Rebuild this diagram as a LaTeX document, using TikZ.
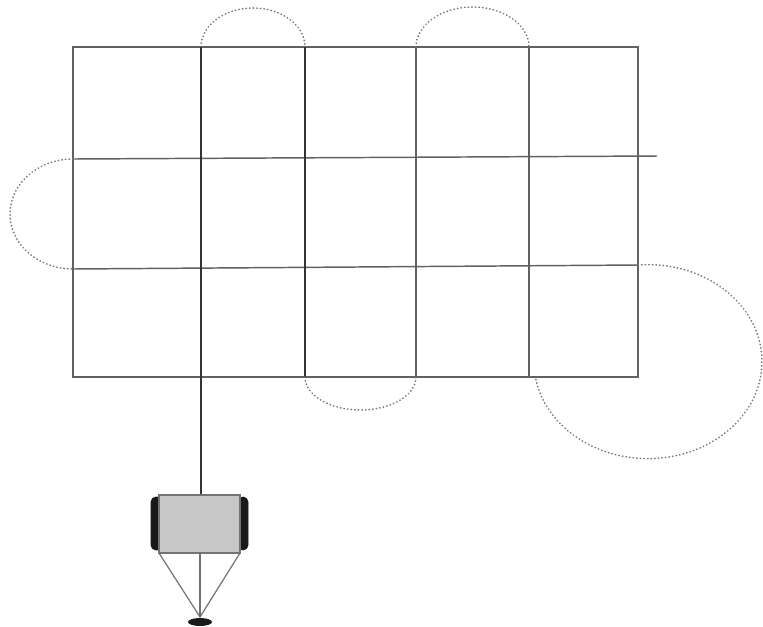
\documentclass[tikz,border=0pt]{standalone}
\begin{document}
\begin{tikzpicture}[x=0.75pt,y=-0.75pt,
  gridline/.style={draw=black!62,line width=1.1pt},
  pathline/.style={draw=black!80,line width=1.3pt},
  loopline/.style={draw=black!55,line width=1.2pt,line cap=round,dash pattern=on 0.3pt off 2.4pt},
  wheel/.style={fill=black!90,draw=black!90,rounded corners=3.5pt},
  body/.style={fill=black!22,draw=black!55,line width=0.9pt},
  strut/.style={draw=black!55,line width=0.9pt}]
\useasboundingbox (0,0) rectangle (763,626);

% grid corners and intersections
\coordinate (tl) at (73,47);   \coordinate (tr) at (638,47);
\coordinate (bl) at (73,377);  \coordinate (br) at (638,377);
\coordinate (m1l) at (73,159); \coordinate (m1r) at (657,156);
\coordinate (m2l) at (73,269); \coordinate (m2r) at (638,265);
\coordinate (c1t) at (201,47);  \coordinate (c1b) at (201,377);
\coordinate (c2t) at (305,47);  \coordinate (c2b) at (305,377);
\coordinate (c3t) at (416,47);  \coordinate (c3b) at (416,377);
\coordinate (c4t) at (529,47);  \coordinate (c4b) at (529,377);

% grid
\draw[gridline] (tl) rectangle (br);
\draw[gridline] (m1l) -- (m1r);
\draw[gridline] (m2l) -- (m2r);
\draw[gridline] (c3t) -- (c3b);
\draw[gridline] (c4t) -- (c4b);
\draw[pathline] (c2t) -- (c2b);

% turning loops between passes
\draw[loopline] (c1t) arc[start angle=180,end angle=360,x radius=52,y radius=39];
\draw[loopline] (c3t) arc[start angle=180,end angle=360,x radius=56.5,y radius=40];
\draw[loopline] (m1l) arc[start angle=270,end angle=90,x radius=63,y radius=55];
\draw[loopline] (c2b) arc[start angle=180,end angle=0,x radius=55.5,y radius=33];
\draw[loopline] (m2r) arc[start angle=265,end angle=530,x radius=114,y radius=97];

% robot
\coordinate (bodytop) at (201,494);
\coordinate (foot) at (200,617);
\draw[pathline] (c1t) -- (bodytop);
\draw[wheel] (151,497) rectangle (162,550);
\draw[wheel] (238,497) rectangle (248,550);
\draw[body] (159,495) rectangle (240,553);
\draw[strut] (159,553) -- (foot) -- (240,553);
\draw[strut] (200,553) -- (foot);
\fill[black!90] (200,622) ellipse[x radius=12,y radius=4];
\end{tikzpicture}
\end{document}
